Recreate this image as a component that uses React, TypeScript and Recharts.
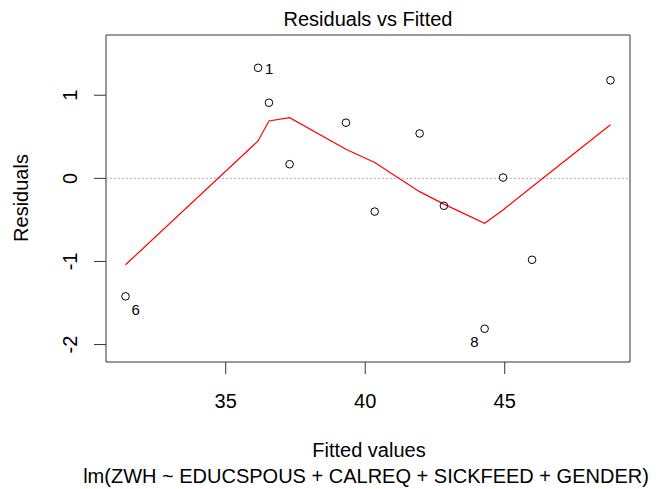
import { ComposedChart, Scatter, XAxis, YAxis, ReferenceLine, ReferenceArea } from 'recharts';

const fitted = [31.41, 36.16, 36.55, 37.29, 39.31, 40.34, 41.95, 42.82, 44.28, 44.94, 45.98, 48.79];
const residuals = [-1.42, 1.33, 0.91, 0.17, 0.67, -0.4, 0.54, -0.33, -1.81, 0.01, -0.98, 1.18];
const smoothed = [-1.04, 0.45, 0.69, 0.73, 0.35, 0.19, -0.16, -0.31, -0.54, -0.38, -0.1, 0.645];
const pointIds = ['6', '1', '', '', '', '', '', '', '8', '', '', ''];
const xTicks = [35, 40, 45];
const yTicks = [-2, -1, 0, 1];
const xDomain: [number, number] = [30.71, 49.49];
const yDomain: [number, number] = [-2.21, 1.725];

const FONT = '"Liberation Sans", Arial, sans-serif';

const points = fitted.map((x, i) => ({ x, y: residuals[i], id: pointIds[i] }));
const smoothLine = fitted.map((x, i) => ({ x, y: smoothed[i] }));

// where R put the id labels relative to their points
const idPlacement: Record<string, { dx: number; dy: number; anchor: 'start' | 'end' }> = {
  '1': { dx: 7, dy: 6, anchor: 'start' },
  '6': { dx: 6, dy: 19, anchor: 'start' },
  '8': { dx: -6, dy: 18, anchor: 'end' },
};

function PointShape(props: any) {
  const { cx, cy, payload } = props;
  const place = payload && payload.id ? idPlacement[payload.id] : null;
  return (
    <g>
      <circle cx={cx} cy={cy} r={3.8} fill="none" stroke="#000" strokeWidth={1} />
      {place && (
        <text
          x={cx + place.dx}
          y={cy + place.dy}
          textAnchor={place.anchor}
          fontSize={15}
          fontFamily={FONT}
          fill="#000"
        >
          {payload.id}
        </text>
      )}
    </g>
  );
}

function YTick(props: any) {
  const { x, y, payload } = props;
  return (
    <text
      x={x}
      y={y}
      transform={`rotate(-90 ${x} ${y})`}
      textAnchor="middle"
      fontSize={20}
      fontFamily={FONT}
      fill="#000"
    >
      {payload.value}
    </text>
  );
}

export default function App() {
  return (
    <div style={{ position: 'absolute', left: 0, top: 0, width: 661, height: 489, background: '#fff' }}>
      <ComposedChart width={661} height={489} margin={{ top: 35, right: 31, bottom: 97, left: 46 }}>
        <XAxis
          type="number"
          dataKey="x"
          domain={xDomain}
          ticks={xTicks}
          allowDataOverflow
          axisLine={false}
          tickLine={{ stroke: '#333' }}
          tickSize={12}
          tickMargin={20}
          height={30}
          tick={{ fill: '#000', fontSize: 20, fontFamily: FONT }}
        />
        <YAxis
          type="number"
          dataKey="y"
          domain={yDomain}
          ticks={yTicks}
          allowDataOverflow
          axisLine={false}
          tickLine={{ stroke: '#333' }}
          tickSize={12}
          tickMargin={17}
          width={60}
          tick={<YTick />}
        />
        <ReferenceArea
          x1={xDomain[0]}
          x2={xDomain[1]}
          y1={yDomain[0]}
          y2={yDomain[1]}
          fill="none"
          stroke="#333"
          strokeWidth={1}
        />
        <ReferenceLine y={0} stroke="#b0b0b0" strokeDasharray="2 2" />
        <Scatter
          data={smoothLine}
          line={{ stroke: '#ff0000', strokeWidth: 1.2 }}
          lineType="joint"
          shape={() => <g />}
          isAnimationActive={false}
        />
        <Scatter data={points} shape={<PointShape />} isAnimationActive={false} />
      </ComposedChart>
      <svg
        width={661}
        height={489}
        style={{ position: 'absolute', left: 0, top: 0, pointerEvents: 'none' }}
        fontFamily={FONT}
        fill="#000"
      >
        <text x={368} y={26} textAnchor="middle" fontSize={20}>
          Residuals vs Fitted
        </text>
        <text x={369} y={457} textAnchor="middle" fontSize={20}>
          Fitted values
        </text>
        <text x={366} y={483} textAnchor="middle" fontSize={20}>
          lm(ZWH ~ EDUCSPOUS + CALREQ + SICKFEED + GENDER)
        </text>
        <text x={28} y={198} transform="rotate(-90 28 198)" textAnchor="middle" fontSize={20}>
          Residuals
        </text>
      </svg>
    </div>
  );
}
